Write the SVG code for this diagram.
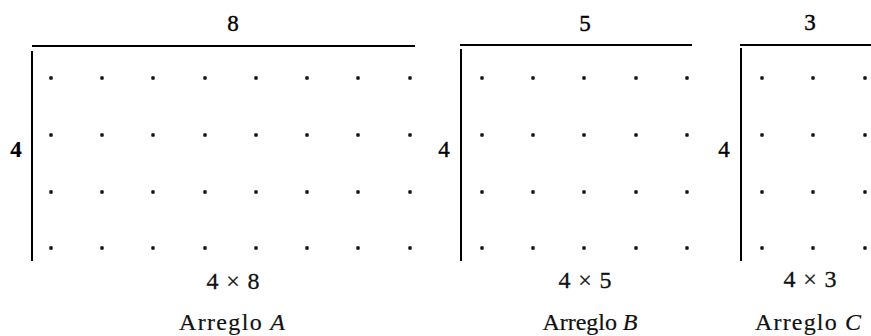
<svg xmlns="http://www.w3.org/2000/svg" width="871" height="336" viewBox="0 0 871 336">
<style>
.ln{stroke:#000;stroke-width:2;fill:none;stroke-linecap:square}
.dot{fill:#111}
.num{font-family:"Liberation Serif",serif;font-size:23px;fill:#000;stroke:#000;stroke-width:0.4;text-anchor:middle}
.bold{font-weight:bold;stroke-width:0.2}
.mul{font-family:"Liberation Serif",serif;font-size:24px;fill:#111;stroke:#111;stroke-width:0.3;text-anchor:middle}
.cap{font-family:"Liberation Serif",serif;font-size:24px;fill:#111;stroke:#111;stroke-width:0.2;text-anchor:middle}
</style>
<defs>
<rect id="d" x="-1.7" y="-1.7" width="3.4" height="3.4" rx="0.8" class="dot"/>
<g id="col">
<use href="#d" y="78"/><use href="#d" y="135"/><use href="#d" y="192"/><use href="#d" y="248"/>
</g>
</defs>
<rect width="871" height="336" fill="#fff"/>
<g id="arregloA">
<path class="ln" d="M33 46 H414 M32 52 V260"/>
<use href="#col" x="51"/><use href="#col" x="102"/><use href="#col" x="153"/><use href="#col" x="205"/>
<use href="#col" x="256"/><use href="#col" x="307"/><use href="#col" x="358"/><use href="#col" x="410"/>
<text class="num" x="233" y="31">8</text>
<text class="num bold" x="16" y="157">4</text>
<text class="mul" x="233" y="289" textLength="53" lengthAdjust="spacing">4×8</text>
<text class="cap" x="232" y="330" textLength="106" lengthAdjust="spacing">Arreglo <tspan font-style="italic">A</tspan></text>
</g>
<g id="arregloB">
<path class="ln" d="M461 45 H691 M461 50 V260"/>
<use href="#col" x="482"/><use href="#col" x="533"/><use href="#col" x="584"/><use href="#col" x="636"/><use href="#col" x="687"/>
<text class="num" x="585" y="31">5</text>
<text class="num" x="444" y="157">4</text>
<text class="mul" x="585" y="288" textLength="53" lengthAdjust="spacing">4×5</text>
<text class="cap" x="590" y="330" textLength="95" lengthAdjust="spacing">Arreglo <tspan font-style="italic">B</tspan></text>
</g>
<g id="arregloC">
<path class="ln" d="M741 45 H871 M741 49 V260"/>
<use href="#col" x="762"/><use href="#col" x="813"/><use href="#col" x="865"/>
<text class="num" x="810" y="30">3</text>
<text class="num" x="724" y="157">4</text>
<text class="mul" x="810" y="287" textLength="53" lengthAdjust="spacing">4×3</text>
<text class="cap" x="808" y="330" textLength="106" lengthAdjust="spacing">Arreglo <tspan font-style="italic">C</tspan></text>
</g>
</svg>
